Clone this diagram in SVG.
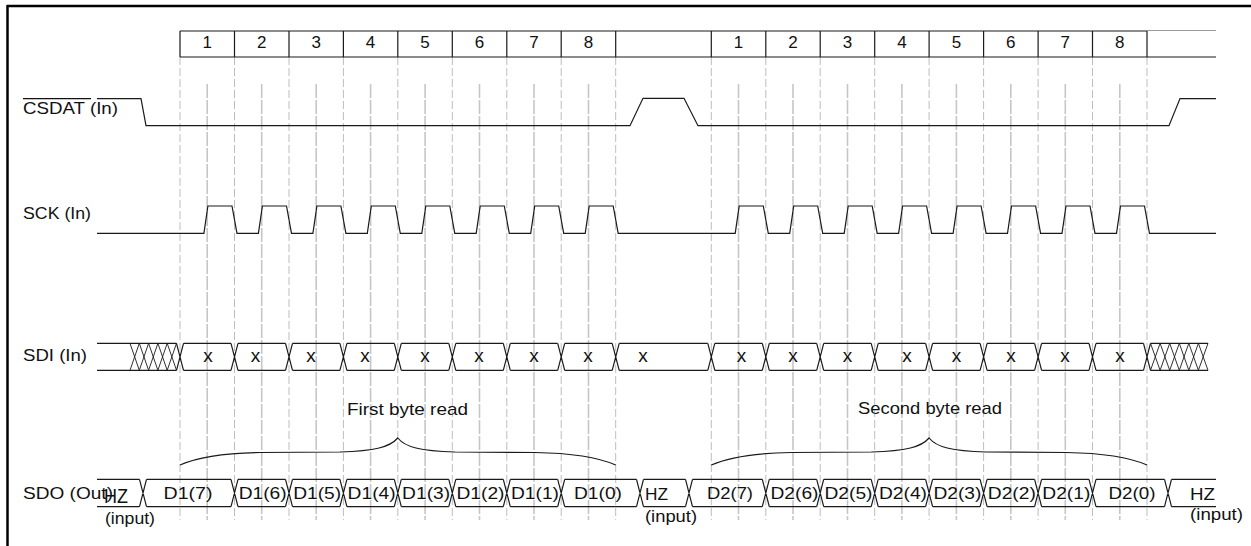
<svg xmlns="http://www.w3.org/2000/svg" xmlns:xlink="http://www.w3.org/1999/xlink" width="1251" height="546" viewBox="0 0 1251 546">
<style>
.sig{fill:none;stroke:#1a1a1a;stroke-width:1.2}
.thin{stroke-width:0.9}
.gb{fill:none;stroke:#bdbdbd;stroke-width:1;stroke-dasharray:8 3}
.gm{fill:none;stroke:#c6c6c6;stroke-width:1.6;stroke-dasharray:14 2}
.t{font-family:"Liberation Sans",Arial,sans-serif;font-size:17px;fill:#111}
.x{font-size:19px}
.m{text-anchor:middle}
</style>
<defs>
<path id="brace" class="sig" d="M180,465 C200,456 230,453 260,452.5 L340,452 C375,451 390,447 397.8,438 C405,447 420,451 455,452 L535,452.5 C565,453 595,456 615.7,465"/>
</defs>
<rect x="0" y="0" width="1251" height="546" fill="#fff"/>
<g id="frame">
<line x1="7" y1="6" x2="1251" y2="6" stroke="#000" stroke-width="2.5"/>
<line x1="7.5" y1="5" x2="7.5" y2="546" stroke="#000" stroke-width="2.5"/>
</g>
<g id="grid">
<path class="gb" d="M180,57V520M234.5,57V520M289,57V520M343.4,57V520M397.8,57V520M452.3,57V520M506.8,57V520M561.2,57V520M615.7,57V520M711.3,57V520M765.8,57V520M820.2,57V520M874.7,57V520M929.1,57V520M983.6,57V520M1038.1,57V520M1092.5,57V520M1147,57V520"/>
<path class="gm" d="M207.2,84V520M261.7,84V520M316.2,84V520M370.6,84V520M425.1,84V520M479.5,84V520M534,84V520M588.5,84V520M738.5,84V520M793,84V520M847.5,84V520M901.9,84V520M956.4,84V520M1010.8,84V520M1065.3,84V520M1119.8,84V520"/>
</g>
<g id="header">
<path class="sig" d="M180,31H1147M180,57H1216M180,31V57M234.5,31V57M289,31V57M343.4,31V57M397.8,31V57M452.3,31V57M506.8,31V57M561.2,31V57M615.7,31V57M711.3,31V57M765.8,31V57M820.2,31V57M874.7,31V57M929.1,31V57M983.6,31V57M1038.1,31V57M1092.5,31V57M1147,31V57"/>
<line x1="1147" y1="30.5" x2="1216" y2="30.5" stroke="#999" stroke-width="1.2"/>
<text class="t m" x="207.2" y="48">1</text>
<text class="t m" x="261.7" y="48">2</text>
<text class="t m" x="316.2" y="48">3</text>
<text class="t m" x="370.6" y="48">4</text>
<text class="t m" x="425.1" y="48">5</text>
<text class="t m" x="479.5" y="48">6</text>
<text class="t m" x="534" y="48">7</text>
<text class="t m" x="588.5" y="48">8</text>
<text class="t m" x="738.5" y="48">1</text>
<text class="t m" x="793" y="48">2</text>
<text class="t m" x="847.5" y="48">3</text>
<text class="t m" x="901.9" y="48">4</text>
<text class="t m" x="956.4" y="48">5</text>
<text class="t m" x="1010.8" y="48">6</text>
<text class="t m" x="1065.3" y="48">7</text>
<text class="t m" x="1119.8" y="48">8</text>
</g>
<g id="csdat">
<text class="t" x="23" y="113.5" textLength="95" lengthAdjust="spacingAndGlyphs">CSDAT (In)</text>
<line x1="23" y1="98.7" x2="91" y2="98.7" stroke="#111" stroke-width="1.2"/>
<path class="sig" d="M97,98.6H141L146,125.7H630L643,98.3H684L698,125.7H1169L1180,98.6H1216"/>
</g>
<g id="sck">
<text class="t" x="23" y="218.5" textLength="68" lengthAdjust="spacingAndGlyphs">SCK (In)</text>
<path class="sig" d="M97,233.3 L203.9,233.3 L207.9,206 L232,206 L237,233.3 L258.4,233.3 L262.4,206 L286.5,206 L291.5,233.3 L312.9,233.3 L316.9,206 L340.9,206 L345.9,233.3 L367.3,233.3 L371.3,206 L395.3,206 L400.3,233.3 L421.8,233.3 L425.8,206 L449.8,206 L454.8,233.3 L476.2,233.3 L480.2,206 L504.3,206 L509.3,233.3 L530.7,233.3 L534.7,206 L558.7,206 L563.7,233.3 L585.2,233.3 L589.2,206 L613.2,206 L618.2,233.3 L735.2,233.3 L739.2,206 L763.3,206 L768.3,233.3 L789.7,233.3 L793.7,206 L817.7,206 L822.7,233.3 L844.2,233.3 L848.2,206 L872.2,206 L877.2,233.3 L898.6,233.3 L902.6,206 L926.6,206 L931.6,233.3 L953.1,233.3 L957.1,206 L981.1,206 L986.1,233.3 L1007.5,233.3 L1011.5,206 L1035.6,206 L1040.6,233.3 L1062,233.3 L1066,206 L1090,206 L1095,233.3 L1116.5,233.3 L1120.5,206 L1144.5,206 L1149.5,233.3 L1216,233.3"/>
</g>
<g id="sdi">
<text class="t" x="23" y="361" textLength="64" lengthAdjust="spacingAndGlyphs">SDI (In)</text>
<path id="sdiTop" class="sig" d="M97,343.3H176.5M183.5,343.3H231M238,343.3H285.5M292.5,343.3H339.9M346.9,343.3H394.3M401.3,343.3H448.8M455.8,343.3H503.3M510.3,343.3H557.7M564.7,343.3H612.2M619.2,343.3H707.8M714.8,343.3H762.3M769.3,343.3H816.7M823.7,343.3H871.2M878.2,343.3H925.6M932.6,343.3H980.1M987.1,343.3H1034.6M1041.6,343.3H1089M1096,343.3H1143.5M1150.5,343.3H1208"/>
<use xlink:href="#sdiTop" href="#sdiTop" transform="translate(0,27)"/>
<path class="sig" d="M176.5,343.3L183.5,370.3M176.5,370.3L183.5,343.3M231,343.3L238,370.3M231,370.3L238,343.3M285.5,343.3L292.5,370.3M285.5,370.3L292.5,343.3M339.9,343.3L346.9,370.3M339.9,370.3L346.9,343.3M394.3,343.3L401.3,370.3M394.3,370.3L401.3,343.3M448.8,343.3L455.8,370.3M448.8,370.3L455.8,343.3M503.3,343.3L510.3,370.3M503.3,370.3L510.3,343.3M557.7,343.3L564.7,370.3M557.7,370.3L564.7,343.3M612.2,343.3L619.2,370.3M612.2,370.3L619.2,343.3M707.8,343.3L714.8,370.3M707.8,370.3L714.8,343.3M762.3,343.3L769.3,370.3M762.3,370.3L769.3,343.3M816.7,343.3L823.7,370.3M816.7,370.3L823.7,343.3M871.2,343.3L878.2,370.3M871.2,370.3L878.2,343.3M925.6,343.3L932.6,370.3M925.6,370.3L932.6,343.3M980.1,343.3L987.1,370.3M980.1,370.3L987.1,343.3M1034.6,343.3L1041.6,370.3M1034.6,370.3L1041.6,343.3M1089,343.3L1096,370.3M1089,370.3L1096,343.3M1143.5,343.3L1150.5,370.3M1143.5,370.3L1150.5,343.3"/>
<path class="sig thin" d="M130,343.3L139.3,370.3M130,370.3L139.3,343.3M139.3,343.3L148.6,370.3M139.3,370.3L148.6,343.3M148.6,343.3L157.9,370.3M148.6,370.3L157.9,343.3M157.9,343.3L167.2,370.3M157.9,370.3L167.2,343.3M167.2,343.3L176.5,370.3M167.2,370.3L176.5,343.3M1150.5,343.3L1160.1,370.3M1150.5,370.3L1160.1,343.3M1160.1,343.3L1169.7,370.3M1160.1,370.3L1169.7,343.3M1169.7,343.3L1179.3,370.3M1169.7,370.3L1179.3,343.3M1179.3,343.3L1188.8,370.3M1179.3,370.3L1188.8,343.3M1188.8,343.3L1198.4,370.3M1188.8,370.3L1198.4,343.3M1198.4,343.3L1208,370.3M1198.4,370.3L1208,343.3"/>
<text class="t x m" x="208" y="362">x</text>
<text class="t x m" x="255.5" y="362">x</text>
<text class="t x m" x="311" y="362">x</text>
<text class="t x m" x="365" y="362">x</text>
<text class="t x m" x="425" y="362">x</text>
<text class="t x m" x="479" y="362">x</text>
<text class="t x m" x="534" y="362">x</text>
<text class="t x m" x="588" y="362">x</text>
<text class="t x m" x="643" y="362">x</text>
<text class="t x m" x="741.5" y="362">x</text>
<text class="t x m" x="793" y="362">x</text>
<text class="t x m" x="847.5" y="362">x</text>
<text class="t x m" x="907" y="362">x</text>
<text class="t x m" x="956.5" y="362">x</text>
<text class="t x m" x="1011" y="362">x</text>
<text class="t x m" x="1065" y="362">x</text>
<text class="t x m" x="1120" y="362">x</text>
</g>
<g id="braces">
<use xlink:href="#brace" href="#brace"/>
<use xlink:href="#brace" href="#brace" transform="translate(531.3,0)"/>
<text class="t" x="347" y="414.5" textLength="121" lengthAdjust="spacingAndGlyphs">First byte read</text>
<text class="t" x="858" y="414.3" textLength="144" lengthAdjust="spacingAndGlyphs">Second byte read</text>
</g>
<g id="sdo">
<text class="t" x="23" y="499" textLength="90" lengthAdjust="spacingAndGlyphs">SDO (Out)</text>
<path id="sdoTop" class="sig" d="M97,479.3H139.5M146.5,479.3H231M238,479.3H285.5M292.5,479.3H339.9M346.9,479.3H394.3M401.3,479.3H448.8M455.8,479.3H503.3M510.3,479.3H557.7M564.7,479.3H636.5M643.5,479.3H685.5M692.5,479.3H762.3M769.3,479.3H816.7M823.7,479.3H871.2M878.2,479.3H925.6M932.6,479.3H980.1M987.1,479.3H1034.6M1041.6,479.3H1089M1096,479.3H1164.5M1171.5,479.3H1216"/>
<use xlink:href="#sdoTop" href="#sdoTop" transform="translate(0,27.4)"/>
<path class="sig" d="M139.5,479.3L146.5,506.7M139.5,506.7L146.5,479.3M231,479.3L238,506.7M231,506.7L238,479.3M285.5,479.3L292.5,506.7M285.5,506.7L292.5,479.3M339.9,479.3L346.9,506.7M339.9,506.7L346.9,479.3M394.3,479.3L401.3,506.7M394.3,506.7L401.3,479.3M448.8,479.3L455.8,506.7M448.8,506.7L455.8,479.3M503.3,479.3L510.3,506.7M503.3,506.7L510.3,479.3M557.7,479.3L564.7,506.7M557.7,506.7L564.7,479.3M636.5,479.3L643.5,506.7M636.5,506.7L643.5,479.3M685.5,479.3L692.5,506.7M685.5,506.7L692.5,479.3M762.3,479.3L769.3,506.7M762.3,506.7L769.3,479.3M816.7,479.3L823.7,506.7M816.7,506.7L823.7,479.3M871.2,479.3L878.2,506.7M871.2,506.7L878.2,479.3M925.6,479.3L932.6,506.7M925.6,506.7L932.6,479.3M980.1,479.3L987.1,506.7M980.1,506.7L987.1,479.3M1034.6,479.3L1041.6,506.7M1034.6,506.7L1041.6,479.3M1089,479.3L1096,506.7M1089,506.7L1096,479.3M1164.5,479.3L1171.5,506.7M1164.5,506.7L1171.5,479.3"/>
<text class="t" x="104" y="503" style="font-size:20px" textLength="24" lengthAdjust="spacingAndGlyphs">HZ</text>
<text class="t" x="105" y="524" textLength="50" lengthAdjust="spacingAndGlyphs">(input)</text>
<text class="t m" x="188" y="499" textLength="49" lengthAdjust="spacingAndGlyphs">D1(7)</text>
<text class="t m" x="262.7" y="499" textLength="48" lengthAdjust="spacingAndGlyphs">D1(6)</text>
<text class="t m" x="317.2" y="499" textLength="48" lengthAdjust="spacingAndGlyphs">D1(5)</text>
<text class="t m" x="371.6" y="499" textLength="48" lengthAdjust="spacingAndGlyphs">D1(4)</text>
<text class="t m" x="426.1" y="499" textLength="48" lengthAdjust="spacingAndGlyphs">D1(3)</text>
<text class="t m" x="480.5" y="499" textLength="48" lengthAdjust="spacingAndGlyphs">D1(2)</text>
<text class="t m" x="535" y="499" textLength="48" lengthAdjust="spacingAndGlyphs">D1(1)</text>
<text class="t m" x="598" y="499" textLength="48" lengthAdjust="spacingAndGlyphs">D1(0)</text>
<text class="t" x="645" y="500" textLength="23" lengthAdjust="spacingAndGlyphs">HZ</text>
<text class="t" x="645" y="521.5" textLength="52" lengthAdjust="spacingAndGlyphs">(input)</text>
<text class="t m" x="730" y="499" textLength="46" lengthAdjust="spacingAndGlyphs">D2(7)</text>
<text class="t m" x="794.5" y="499" textLength="48" lengthAdjust="spacingAndGlyphs">D2(6)</text>
<text class="t m" x="848.5" y="499" textLength="48" lengthAdjust="spacingAndGlyphs">D2(5)</text>
<text class="t m" x="903" y="499" textLength="48" lengthAdjust="spacingAndGlyphs">D2(4)</text>
<text class="t m" x="957.4" y="499" textLength="48" lengthAdjust="spacingAndGlyphs">D2(3)</text>
<text class="t m" x="1011.8" y="499" textLength="48" lengthAdjust="spacingAndGlyphs">D2(2)</text>
<text class="t m" x="1066.3" y="499" textLength="48" lengthAdjust="spacingAndGlyphs">D2(1)</text>
<text class="t m" x="1132" y="499" textLength="47" lengthAdjust="spacingAndGlyphs">D2(0)</text>
<text class="t" x="1190" y="500" textLength="25" lengthAdjust="spacingAndGlyphs">HZ</text>
<text class="t" x="1190" y="520" textLength="53" lengthAdjust="spacingAndGlyphs">(input)</text>
</g>
</svg>
